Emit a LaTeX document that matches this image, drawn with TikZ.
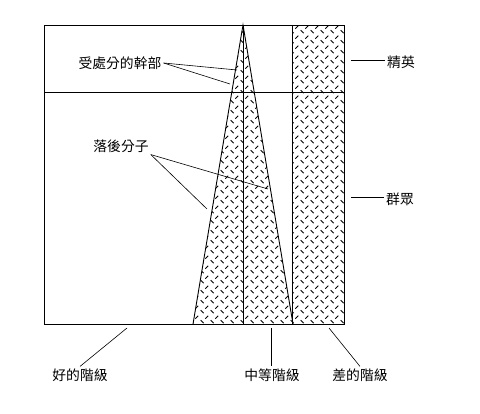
\documentclass[tikz,border=0pt]{standalone}
\usepackage{fontspec}
\newfontfamily\cjk{Noto Sans CJK TC}
\usetikzlibrary{patterns}

% diamond plate hatching
\pgfdeclarepatternformonly{plate}{\pgfqpoint{0pt}{0pt}}{\pgfqpoint{10pt}{10pt}}{\pgfqpoint{10pt}{10pt}}{
  \pgfsetlinewidth{0.95pt}
  \pgfpathmoveto{\pgfqpoint{0.8pt}{4.2pt}}\pgfpathlineto{\pgfqpoint{4pt}{1pt}}
  \pgfpathmoveto{\pgfqpoint{5.8pt}{5.8pt}}\pgfpathlineto{\pgfqpoint{9pt}{9pt}}
  \pgfusepath{stroke}}

\tikzset{
  lbl/.style={inner sep=2pt},
  lead/.style={line width=0.6pt},
  frame/.style={line width=0.9pt}
}

\begin{document}
\begin{tikzpicture}[x=1pt,y=-1pt,font=\cjk\fontsize{13.8}{15}\selectfont]
  \useasboundingbox (0,0) rectangle (480,414);

  % layers
  \coordinate (apex) at (243,25);
  \coordinate (tbl) at (193,324);
  \coordinate (tbr) at (293,324);
  \fill[pattern=plate] (292,25) rectangle (344,324);
  \fill[pattern=plate] (apex) -- (tbl) -- (tbr) -- cycle;
  \draw[frame] (44,25) rectangle (344,324);
  \draw[frame] (44,92) -- (344,92);
  \draw[frame] (292,25) -- (292,324);
  \draw[frame] (tbl) -- (apex) -- (tbr);
  \draw[frame] (apex) -- (243,324);

  % labels
  \node[lbl] (cadre) at (120,63) {受處分的幹部};
  \coordinate (c1) at (237,70);
  \coordinate (c2) at (230,84);
  \draw[lead] (cadre.east) -- (c1);
  \draw[lead] (cadre.east) -- (c2);

  \node[lbl] (lag) at (121,146) {落後分子};
  \coordinate (l1) at (268,189);
  \coordinate (l2) at (207,209);
  \draw[lead] (lag.south east) -- (l1);
  \draw[lead] (lag.south east) -- (l2);

  \node[lbl,anchor=west] (elite) at (385,62) {精英};
  \coordinate (e0) at (351,60);
  \draw[lead] (e0) -- (elite.west |- e0);

  \node[lbl,anchor=west] (mass) at (384,199) {群眾};
  \coordinate (m0) at (351,197);
  \draw[lead] (m0) -- (mass.west |- m0);

  \node[lbl] (good) at (80,375) {好的階級};
  \node[lbl] (mid) at (272,375) {中等階級};
  \node[lbl] (bad) at (360,375) {差的階級};
  \coordinate (g0) at (127,328);
  \coordinate (d0) at (271,328);
  \coordinate (b0) at (329,328);
  \draw[lead] (g0) -- (good.north);
  \draw[lead] (d0) -- (d0 |- mid.north);
  \draw[lead] (b0) -- (bad.north);
\end{tikzpicture}
\end{document}
